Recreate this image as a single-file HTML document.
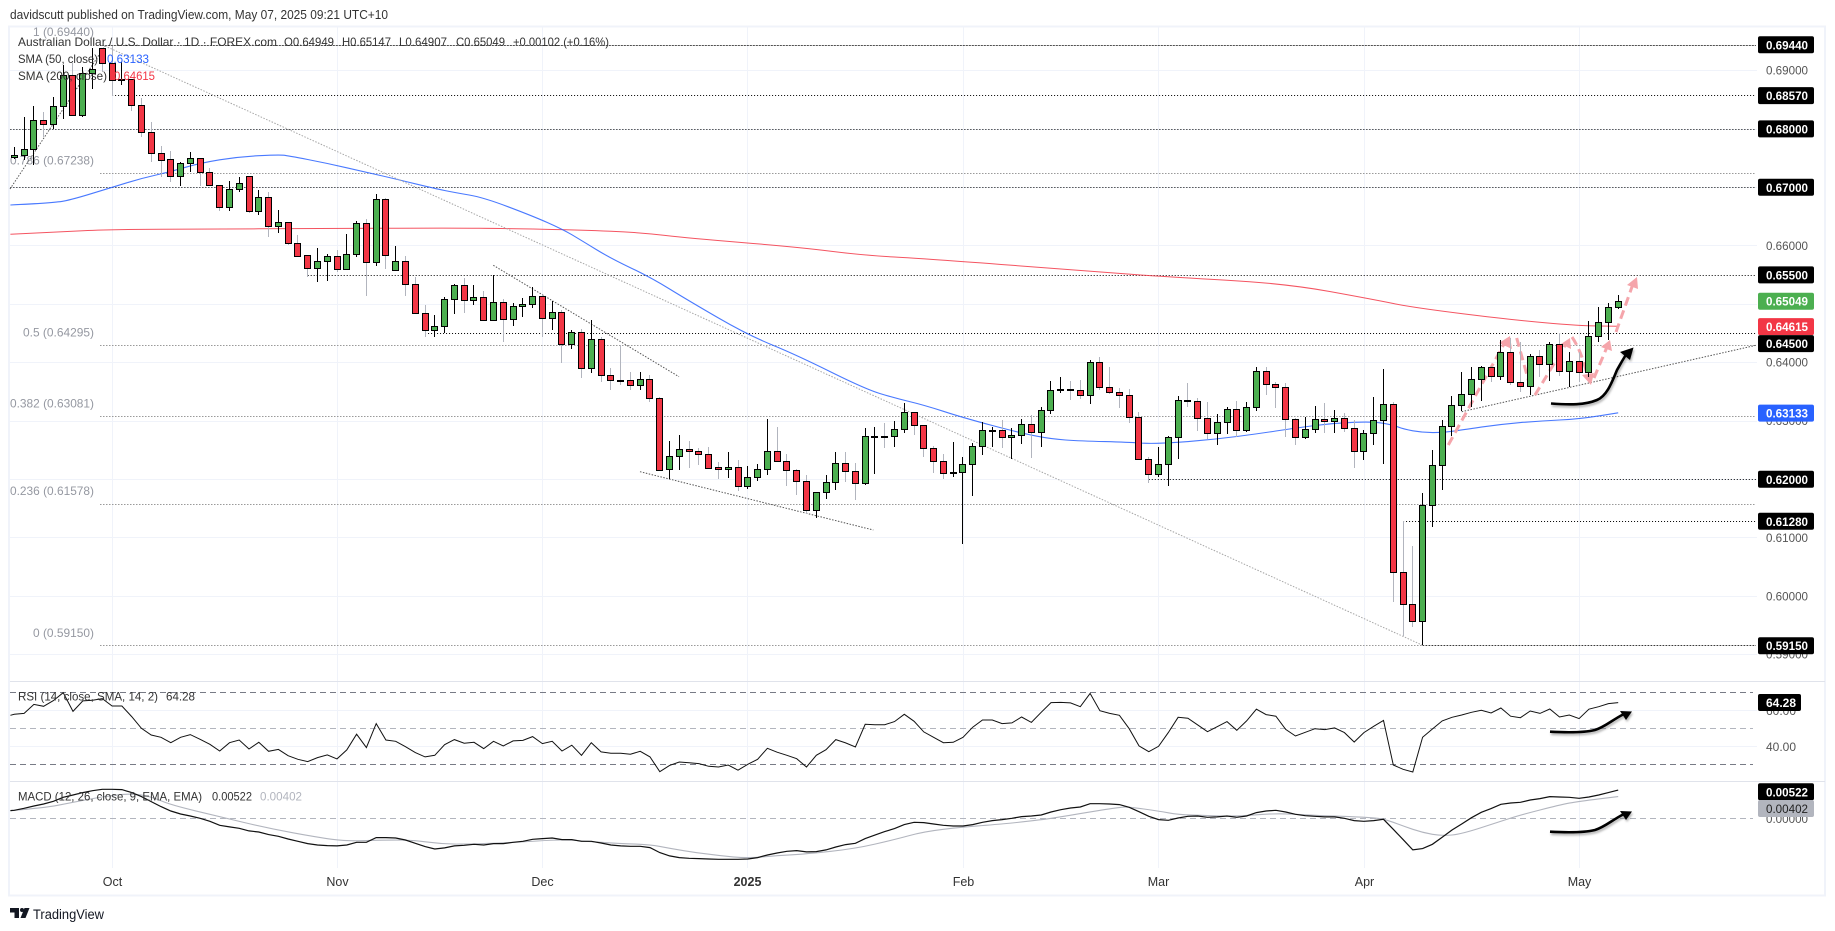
<!DOCTYPE html>
<html lang="en">
<head>
<meta charset="utf-8">
<title>AUD/USD daily chart</title>
<style>
html,body{margin:0;padding:0;background:#fff;width:1835px;height:931px;overflow:hidden}
svg{display:block;font-family:"Liberation Sans",sans-serif}
</style>
</head>
<body>
<svg id="chart" xmlns="http://www.w3.org/2000/svg" width="1835" height="931" viewBox="0 0 1835 931">
  <rect x="9" y="26.5" width="1816" height="869" fill="#fff" stroke="#f0f3fa" stroke-width="2"/>
  <text x="10" y="19" font-size="12.5" fill="#333" textLength="378" lengthAdjust="spacingAndGlyphs">davidscutt published on TradingView.com, May 07, 2025 09:21 UTC+10</text>
  <g id="grid"></g>
  <g id="levels"></g>
  <line x1="10" x2="1825" y1="681.5" y2="681.5" stroke="#e0e3eb"/>
  <line x1="10" x2="1825" y1="781.5" y2="781.5" stroke="#e0e3eb"/>
  <g id="mas"></g>
  <g fill="none" stroke-linecap="butt">
    <line x1="10" y1="189" x2="105" y2="46" stroke="#555" stroke-dasharray="1.5 1.5"/>
    <line x1="105" y1="46" x2="1422" y2="645" stroke="#a6a6a6" stroke-dasharray="1.5 1.5"/>
    <line x1="493.3" y1="265.3" x2="679" y2="376.7" stroke="#555" stroke-dasharray="1.5 1.5"/>
    <line x1="640" y1="471.7" x2="873.3" y2="530" stroke="#555" stroke-dasharray="1.5 1.5"/>
    <line x1="1461.7" y1="411.7" x2="1756" y2="345.3" stroke="#555" stroke-dasharray="1.5 1.5"/>
  </g>
  <g fill="none" stroke="#f5a5ab" stroke-width="3" stroke-dasharray="9 5">
    <path d="M1448.3 445 L1504 344"/>
    <path d="M1516.7 338 L1530 386"/>
    <path d="M1535 395 L1566 344"/>
    <path d="M1572 337 Q1582 352 1588 378"/>
    <path d="M1594 378 L1607 347"/>
    <path d="M1616 332 L1633 284"/>
  </g>
  <g fill="#f5a5ab">
    <polygon points="1510,336 1512,349 1499,343"/>
    <polygon points="1570,338 1571,349 1561,344"/>
    <polygon points="1591,385 1582,375 1594,373"/>
    <polygon points="1610,340 1612,351 1601,347"/>
    <polygon points="1637,277 1638,289 1627,285"/>
  </g>
  <g id="candles"></g>
  <g style="filter:drop-shadow(1px 2px 1px rgba(0,0,0,.3))">
    <path d="M1551 403.5 C1570 405 1585 405 1597 400 C1607 396 1612 382 1617 370 C1620 365 1624 357 1628 352" fill="none" stroke="#000" stroke-width="2.6"/>
    <polygon points="1633.5,347.5 1630,360 1620,352"/>
    <path d="M1550 731.7 C1565 732.5 1585 732.5 1595 730 C1605 727 1612 720 1624 714" fill="none" stroke="#000" stroke-width="2.6"/>
    <polygon points="1632,711.5 1626,720 1620,711"/>
    <path d="M1550 831.7 C1565 832.5 1585 832.5 1595 830 C1605 827 1612 820 1624 814" fill="none" stroke="#000" stroke-width="2.6"/>
    <polygon points="1632,811.5 1626,820 1620,811"/>
  </g>
  <g id="indicators"></g>
  <g font-size="12" fill="#333">
    <text x="18" y="46" textLength="259" lengthAdjust="spacingAndGlyphs">Australian Dollar / U.S. Dollar · 1D · FOREX.com</text>
    <text x="284" y="46" textLength="50" lengthAdjust="spacingAndGlyphs">O0.64949</text>
    <text x="342" y="46" textLength="49" lengthAdjust="spacingAndGlyphs">H0.65147</text>
    <text x="399" y="46" textLength="48" lengthAdjust="spacingAndGlyphs">L0.64907</text>
    <text x="456" y="46" textLength="49" lengthAdjust="spacingAndGlyphs">C0.65049</text>
    <text x="513" y="46" textLength="96" lengthAdjust="spacingAndGlyphs">+0.00102 (+0.16%)</text>
    <text x="18" y="63" textLength="80" lengthAdjust="spacingAndGlyphs">SMA (50, close)</text>
    <text x="107" y="63" fill="#2962ff" textLength="42" lengthAdjust="spacingAndGlyphs">0.63133</text>
    <text x="18" y="80" textLength="89" lengthAdjust="spacingAndGlyphs">SMA (200, close)</text>
    <text x="114" y="80" fill="#f23645" textLength="41" lengthAdjust="spacingAndGlyphs">0.64615</text>
    <text x="18" y="700.5" textLength="140" lengthAdjust="spacingAndGlyphs">RSI (14, close, SMA, 14, 2)</text>
    <text x="166" y="700.5" textLength="29" lengthAdjust="spacingAndGlyphs">64.28</text>
    <text x="18" y="800.5" textLength="184" lengthAdjust="spacingAndGlyphs">MACD (12, 26, close, 9, EMA, EMA)</text>
    <text x="212" y="800.5" textLength="40" lengthAdjust="spacingAndGlyphs">0.00522</text>
    <text x="260" y="800.5" fill="#b2b5be" textLength="42" lengthAdjust="spacingAndGlyphs">0.00402</text>
  </g>
  <g id="axis"></g>
  <g fill="#131722">
    <path d="M10 908 H19 V918 H14.5 V912.5 H10 Z"/>
    <circle cx="22" cy="910" r="2"/>
    <polygon points="24.5,908 29.5,908 25.5,918 20.5,918"/>
    <text x="33" y="919" font-size="13.5" textLength="71" lengthAdjust="spacingAndGlyphs">TradingView</text>
  </g>
</svg>
<script>
const opens=[.67509,.67543,.67646,.68142,.68074,.68382,.68913,.68228,.68947,.69375,.69118,.68824,.68844,.68399,.67937,.67577,.67474,.67183,.67406,.67491,.67252,.67029,.66652,.66961,.67183,.66584,.66824,.66327,.66396,.66036,.65831,.65608,.65728,.65813,.65591,.65848,.66378,.65711,.66789,.65574,.65728,.65334,.64837,.64546,.64615,.65077,.65317,.65060,.65111,.64718,.65026,.64735,.64957,.64991,.65129,.64752,.64854,.64307,.64512,.63896,.64392,.63776,.63695,.63690,.63605,.63707,.63382,.62166,.62389,.62509,.62475,.62423,.62200,.62166,.62200,.61875,.62029,.62166,.62475,.62303,.62149,.61961,.61464,.61772,.61944,.62269,.62132,.61926,.62722,.62731,.62731,.62851,.63142,.62920,.62526,.62303,.62110,.62115,.62252,.62560,.62825,.62834,.62714,.62748,.62937,.62800,.63177,.63519,.63536,.63519,.63433,.63998,.63570,.63485,.63433,.63057,.62337,.62081,.62252,.62714,.63348,.63330,.63040,.62783,.62971,.63194,.62834,.63228,.63844,.63621,.63570,.63022,.62714,.62851,.63022,.62988,.63040,.62868,.62475,.62783,.63005,.63279,.60403,.59855,.59563,.61550,.62235,.62902,.63262,.63450,.63707,.63913,.63759,.64170,.63656,.63587,.64101,.63964,.64307,.63844,.64016,.63832,.64444,.64683,.64949];
const highs=[.67685,.68199,.68387,.68284,.68541,.69089,.69123,.69055,.69380,.69380,.69421,.69140,.68849,.68524,.68113,.67702,.67616,.67428,.67599,.67497,.67325,.67034,.67103,.67172,.67188,.66949,.66914,.66604,.66401,.66178,.65836,.65955,.65853,.65921,.66195,.66418,.66452,.66880,.66812,.65990,.65819,.65464,.64980,.64808,.65111,.65339,.65437,.65322,.65214,.65488,.65077,.65009,.65094,.65283,.65139,.65048,.64894,.64551,.64569,.64723,.64426,.63901,.64295,.63827,.63827,.63781,.63404,.62651,.62754,.62651,.62526,.62543,.62291,.62462,.62325,.62223,.62257,.63027,.62890,.62428,.62166,.62069,.61772,.62069,.62462,.62462,.62274,.62873,.62890,.62959,.62993,.63301,.63147,.62925,.62560,.62428,.62634,.62377,.62611,.62976,.62885,.63010,.62868,.63027,.63096,.63233,.63678,.63747,.63678,.63695,.64038,.64089,.63918,.63558,.63541,.63147,.62372,.62548,.62731,.63421,.63644,.63387,.63318,.63108,.63228,.63335,.63318,.63918,.63918,.63656,.63644,.63045,.63062,.63250,.63301,.63181,.63130,.63005,.62839,.63404,.63884,.63313,.61281,.60853,.61755,.62497,.63010,.63421,.63832,.63913,.63935,.63935,.64375,.64409,.64346,.64135,.64209,.64346,.64500,.64175,.64175,.64705,.64945,.65014,.65147];
const lows=[.67474,.67462,.67382,.67856,.67993,.68164,.68216,.68199,.68678,.68969,.68558,.68747,.68306,.67856,.67428,.67172,.67088,.67017,.67257,.67017,.67029,.66589,.66589,.66914,.66555,.66521,.66144,.66212,.66007,.65801,.65459,.65373,.65390,.65545,.65579,.65801,.65134,.65647,.65596,.65574,.65134,.64820,.64426,.64437,.64495,.64830,.64848,.64985,.64718,.64718,.64351,.64625,.64779,.64933,.64437,.64551,.63992,.64221,.63735,.63810,.63666,.63524,.63610,.63524,.63524,.63324,.62142,.61995,.62154,.62194,.62240,.62171,.62005,.62022,.61795,.61834,.61971,.62074,.62303,.61880,.61726,.61401,.61327,.61663,.61812,.61944,.61640,.61903,.62086,.62531,.62553,.62793,.62754,.62377,.62108,.62000,.62034,.60892,.61714,.62411,.62548,.62531,.62343,.62600,.62360,.62548,.63113,.63473,.63353,.63370,.63284,.63524,.63450,.63216,.62959,.62337,.61932,.62034,.61880,.62343,.63233,.62822,.62680,.62582,.62771,.62714,.62800,.63165,.63438,.63216,.62719,.62582,.62690,.62793,.62793,.62793,.62810,.62194,.62325,.62582,.62262,.59889,.59317,.59471,.59150,.61173,.61812,.62741,.63159,.63233,.63335,.63666,.63695,.63610,.63495,.63433,.63747,.63678,.63764,.63570,.63661,.63742,.64346,.64380,.64907];
const closes=[.67543,.67646,.68142,.68074,.68382,.68913,.68228,.68947,.69015,.69118,.68827,.68841,.68399,.67937,.67577,.67467,.67183,.67406,.67491,.67252,.67029,.66652,.66961,.67063,.66584,.66824,.66327,.66396,.66036,.65824,.65608,.65728,.65813,.65591,.65848,.66378,.65711,.66789,.65831,.65728,.65334,.64837,.64546,.64615,.65077,.65317,.65060,.65111,.64718,.65026,.64735,.64957,.64991,.65129,.64752,.64854,.64307,.64512,.63896,.64392,.63776,.63690,.63685,.63605,.63707,.63382,.62154,.62389,.62509,.62475,.62423,.62194,.62166,.62200,.61875,.62029,.62166,.62475,.62303,.62149,.61961,.61464,.61772,.61944,.62269,.62132,.61926,.62731,.62731,.62722,.62851,.63142,.62920,.62526,.62303,.62098,.62120,.62252,.62560,.62834,.62834,.62714,.62748,.62937,.62800,.63177,.63519,.63536,.63527,.63433,.63998,.63570,.63485,.63433,.63057,.62337,.62081,.62252,.62714,.63348,.63330,.63040,.62783,.62971,.63194,.62834,.63228,.63844,.63621,.63570,.63022,.62714,.62851,.63022,.62988,.63040,.62868,.62475,.62783,.63005,.63279,.60403,.59855,.59563,.61550,.62235,.62902,.63262,.63450,.63707,.63913,.63759,.64170,.63656,.63587,.64101,.63964,.64307,.63844,.64016,.63832,.64444,.64683,.64940,.65049];

const sma50Bars=[-0.4,4,6,10,13,16,19,23,27,28,32,36,39,43,45,48,53,56,58,61,65,69,75,80,87,90,93,97,103,106,109,114,116,119,123,127,131,135,139,141,142,144,146,148,152,156,160,164];
const sma50Values=[.66692,.66726,.66789,.66995,.67149,.67262,.67411,.67519,.67553,.67536,.67406,.67252,.67137,.66974,.66906,.66820,.66503,.66281,.66084,.65776,.65459,.65048,.64466,.64123,.63541,.63387,.63267,.63050,.62783,.62685,.62651,.62628,.62605,.62625,.62685,.62771,.62873,.62959,.62984,.62925,.62856,.62796,.62793,.62839,.62937,.62993,.63027,.63133];
const sma200Bars=[-0.4,4,10,20,30,45,50,58,64,69,80,87,93,111,118,130,139,143,153,160,164];
const sma200Values=[.66190,.66229,.66275,.66281,.66286,.66298,.66289,.66264,.66221,.66122,.65973,.65827,.65776,.65544,.65459,.65348,.65074,.64937,.64728,.64625,.64615];

const rsiLeadValue=57.2;
const rsiValues=[57.8,58.3,63.3,62.2,65.4,69.8,59.4,65.2,65.6,66.5,62.4,62.4,56.5,50,46.3,45,42,45,46.5,43.9,41.1,37.4,42,43.5,38.5,42.2,37.2,38.3,34.8,32.8,31.5,33.7,35.2,33,38,46.7,39.3,52.6,43.5,42.8,39.8,36.5,34.1,35,40.9,43.7,41.7,42.2,38.7,42.8,40.2,43,43.3,
45.4,41.5,42.8,37.4,40.6,35,42,36.9,36.1,36.1,35.6,37.2,34.1,25.9,29.4,31.3,30.9,30.4,28.9,28.5,29.6,26.7,30,32.8,38.9,36.7,35,33.1,28.5,35,38.1,43.7,41.9,39.6,52.2,52,52,53.7,57.8,53.9,48,45,42,42.2,45,50.6,54.6,54.6,52.6,53,56.3,53.3,58.9,
64.3,64.4,64.1,62,69.4,59.8,58.3,57.2,49.8,40.2,37,40,47.6,56.1,55.6,51.9,48.1,50.9,53.7,48.9,54.1,60.6,57.6,56.7,49.4,45.7,47.8,49.8,49.3,50.2,47.6,42.4,47.6,51.1,54.4,29.6,27.2,25.7,45,49.6,54.1,56.1,57.4,58.9,60,58.5,61.3,56.7,55.9,59.6,58.3,60.7,56.3,57.4,55.4,60.6,62,63.7,64.28];

const macdLeadValue=.00142;
const macdValues=[.00148,.00185,.00228,.00265,.00315,.00389,.00432,.00475,.00512,.00537,.00537,.00531,.00475,.00401,.00309,.00216,.00136,.0008,.00043,0,-.00056,-.0013,-.0016,-.00185,-.00234,-.00253,-.00302,-.00333,-.00383,-.00426,-.00469,-.00494,-.00506,-.00512,-.00494,-.00444,-.00444,-.00358,-.00358,-.00364,-.00401,-.00463,-.00524,-.00568,-.00549,-.00512,-.005,-.00481,-.00494,-.00469,-.00469,-.00444,-.00426,
-.00389,-.00376,-.00364,-.00395,-.00395,-.00426,-.00426,-.00457,-.00494,-.00512,-.00518,-.00518,-.00543,-.00636,-.00697,-.00728,-.0074,-.00747,-.00753,-.00759,-.00759,-.00759,-.00753,-.00728,-.00679,-.00642,-.00611,-.00598,-.00623,-.00617,-.00586,-.00531,-.00487,-.00463,-.00376,-.00309,-.00247,-.00191,-.00117,-.00074,-.0008,-.00105,-.0013,-.00142,-.00142,-.00117,-.00074,-.00043,-.00025,0,.00031,.00043,.00062,
.00117,.0016,.00191,.0021,.00271,.00271,.00265,.00253,.00204,.00123,.00037,-.00025,-.00037,.00006,.00037,.00043,.00019,.00025,.00043,.00019,.00043,.00105,.00136,.00148,.00117,.00074,.00049,.00037,.00025,.00025,0,-.00043,-.00056,-.00043,-.00019,-.00204,-.00395,-.00586,-.00561,-.00481,-.00352,-.00216,-.00105,.00012,.00111,.00179,.00259,.00284,.00296,.00339,.00364,.00401,.00395,.00389,.0037,.00395,.00432,.00475,.00522];
const signalBars=[-0.4,3,6,9,12,14,16,21,26,31,34,38,41,44,47,52,55,57,58,62,65,67,69,72,75,78,81,86,90,93,97,100,105,108,110,113,114,117,119,122,125,129,132,135,138,140,142,144,146,148,152,154,158,160,164];
const signalValues=[.00142,.00191,.00296,.00401,.00463,.00401,.00247,.00031,-.00185,-.00352,-.00426,-.00401,-.00407,-.00481,-.00475,-.00438,-.00401,-.00401,-.0042,-.00469,-.00487,-.00555,-.00617,-.00691,-.0074,-.00691,-.0066,-.00561,-.00395,-.00247,-.0016,-.00123,-.00031,.00056,.00117,.00204,.0021,.00136,.00068,.00049,.00037,.00093,.00062,.00043,.00019,-.00006,-.00142,-.00265,-.00327,-.0029,-.00056,.00062,.00247,.00315,.00402];

const priceTicks=[.69,.68,.67,.66,.65,.64,.63,.62,.61,.60,.59];
const priceTickLabels=['0.69000','','','0.66000','','0.64000','0.63000','','0.61000','0.60000','0.59000'];
const levelValues=[.6944,.6857,.68,.67,.655,.645,.62,.6128,.5915];
const levelStartBars=[9,10,-0.4,-0.4,30,42,116,142,144];
const fibValues=[.6944,.67238,.64295,.63081,.61578,.5915];
const fibLabels=['1 (0.69440)','0.786 (0.67238)','0.5 (0.64295)','0.382 (0.63081)','0.236 (0.61578)','0 (0.59150)'];
const fibLabelStarts=[33,10,23,10,10,33];
const timeLabels=['Oct','Nov','Dec','2025','Feb','Mar','Apr','May'];
const rsiLevels=[70,50,30];
const rsiGrid=[60,40];
const badgeValues=[.6944,.6857,.68,.67,.655,.65049,.64615,.645,.63133,.62,.6128,.5915];
const badgeKinds=['level','level','level','level','level','last','sma200','level','sma50','level','level','level'];

const NS='http://www.w3.org/2000/svg';
const xBar=i=>14.3+9.78*i;
const timeX=[112.5,337.5,542.5,747.5,963.5,1158.5,1364.5,1579.5];
const yPrice=p=>(0.70202-p)*5840;
const yRsi=v=>728.3+(50-v)*1.8;
const yMacd=v=>818.3-v*5400;
const crisp=y=>Math.round(y)+0.5;
function mk(tag,attrs,parent){
  const el=document.createElementNS(NS,tag);
  for(const k in attrs)el.setAttribute(k,attrs[k]);
  parent.appendChild(el);
  return el;
}
function smoothPath(xs,ys){
  let d='M'+xs[0].toFixed(1)+' '+ys[0].toFixed(1);
  for(let i=1;i<xs.length-1;i++){
    const mx=(xs[i]+xs[i+1])/2,my=(ys[i]+ys[i+1])/2;
    d+=' Q'+xs[i].toFixed(1)+' '+ys[i].toFixed(1)+' '+mx.toFixed(1)+' '+my.toFixed(1);
  }
  const n=xs.length-1;
  return d+' L'+xs[n].toFixed(1)+' '+ys[n].toFixed(1);
}
const gGrid=document.getElementById('grid'),gLevels=document.getElementById('levels'),gMas=document.getElementById('mas'),gCandles=document.getElementById('candles'),gInd=document.getElementById('indicators'),gAxis=document.getElementById('axis');

timeX.forEach((x,k)=>{
  const v=mk('line',{x1:x,x2:x,y1:27,y2:868,stroke:'#f0f3fa'},gGrid);
  
  
  const t=mk('text',{x:x,y:886,'text-anchor':'middle','font-size':12.5,fill:'#333','font-weight':timeLabels[k]==='2025'?'bold':'normal'},gAxis);
  
  
  t.textContent=timeLabels[k];
});
priceTicks.forEach((p,k)=>{
  const y=crisp(yPrice(p));
  const l=mk('line',{x1:10,x2:1757,y1:y,y2:y,stroke:'#f0f3fa'},gGrid);
  
  
  if(priceTickLabels[k]){
    const t=mk('text',{x:1766,y:yPrice(p)+4.5,'font-size':12,fill:'#555',textLength:42,lengthAdjust:'spacingAndGlyphs'},gAxis);
    
    
    t.textContent=priceTickLabels[k];
  }
});
rsiGrid.forEach(v=>{
  const y=crisp(yRsi(v));
  const l=mk('line',{x1:10,x2:1757,y1:y,y2:y,stroke:'#f0f3fa'},gGrid);
  
  
  const t=mk('text',{x:1766,y:y+4.5,'font-size':12,fill:'#555',textLength:30,lengthAdjust:'spacingAndGlyphs'},gAxis);
  
  
  t.textContent=v.toFixed(2);
});
fibValues.forEach((p,k)=>{
  const y=crisp(yPrice(p));
  const l=mk('line',{x1:100,x2:1756,y1:y,y2:y,stroke:'#9a9a9a','stroke-dasharray':'1.5 1.5'},gLevels);
  
  
  const t=mk('text',{x:fibLabelStarts[k],y:yPrice(p)-8.5,'font-size':12,fill:'#9598a1',textLength:94-fibLabelStarts[k],lengthAdjust:'spacingAndGlyphs'},gLevels);
  
  
  t.textContent=fibLabels[k];
});
levelValues.forEach((p,k)=>{
  const y=crisp(yPrice(p));
  const l=mk('line',{x1:xBar(levelStartBars[k]),x2:1756,y1:y,y2:y,stroke:'#000','stroke-dasharray':'1 2'},gLevels);
  
  
});
const s200=mk('path',{d:smoothPath(sma200Bars.map(xBar),sma200Values.map(yPrice)),fill:'none',stroke:'#f23645','stroke-width':1,'stroke-opacity':.85},gMas);


const s50=mk('path',{d:smoothPath(sma50Bars.map(xBar),sma50Values.map(yPrice)),fill:'none',stroke:'#2962ff','stroke-width':1.1,'stroke-opacity':.85},gMas);



opens.forEach((o,i)=>{
  const c=closes[i],up=c>=o,cx=Math.floor(xBar(i));
  const wick=mk('line',{x1:cx+.5,x2:cx+.5,y1:Math.round(yPrice(highs[i])),y2:Math.round(yPrice(lows[i])),stroke:up?'#000':'#b2b5be'},gCandles);
  
  
  const top=crisp(yPrice(Math.max(o,c))),bot=crisp(yPrice(Math.min(o,c)));
  const body=mk('path',{d:'M'+(cx-2.5)+' '+top+' H'+(cx+3.5)+' V'+bot+' H'+(cx-2.5)+' Z',fill:up?'#4caf50':'#f23645',stroke:'#000'},gCandles);
  
  
});

rsiLevels.forEach(v=>{
  const y=crisp(yRsi(v));
  const l=mk('line',{x1:10,x2:1753,y1:y,y2:y,stroke:v===50?'#b2b5be':'#787b86','stroke-dasharray':'6 4'},gGrid);
  
  
});
const zero=mk('line',{x1:10,x2:1753,y1:crisp(yMacd(0)),y2:crisp(yMacd(0)),stroke:'#b2b5be','stroke-dasharray':'6 4'},gGrid);



const rsiStart='M'+xBar(-0.4).toFixed(1)+' '+yRsi(rsiLeadValue).toFixed(1);
const rsiLine=mk('path',{d:rsiStart+rsiValues.map((v,i)=>' L'+xBar(i).toFixed(1)+' '+yRsi(v).toFixed(1)).join(''),fill:'none',stroke:'#111','stroke-width':1},gInd);


const sigLine=mk('path',{d:smoothPath(signalBars.map(xBar),signalValues.map(yMacd)),fill:'none',stroke:'#b2b5be','stroke-width':1.1},gInd);


const macdStart='M'+xBar(-0.4).toFixed(1)+' '+yMacd(macdLeadValue).toFixed(1);
const macdLine=mk('path',{d:macdStart+macdValues.map((v,i)=>' L'+xBar(i).toFixed(1)+' '+yMacd(v).toFixed(1)).join(''),fill:'none',stroke:'#111','stroke-width':1.2},gInd);



const kindFill={level:'#000',last:'#4caf50',sma200:'#f23645',sma50:'#2962ff'};
let prevY=-100;
badgeValues.forEach((v,k)=>{
  const y=Math.max(yPrice(v)+0.3,prevY+17);
  prevY=y;
  const r=mk('rect',{x:1758,y:(y-8.5).toFixed(1),width:56,height:17,rx:2,fill:kindFill[badgeKinds[k]]},gAxis);
  
  
  const t=mk('text',{x:1766,y:(y+4.5).toFixed(1),'font-size':12,'font-weight':'bold',fill:'#fff',textLength:42,lengthAdjust:'spacingAndGlyphs'},gAxis);
  
  
  t.textContent=v.toFixed(5);
});

const zeroLbl=mk('text',{x:1766,y:822.8,'font-size':12,fill:'#555',textLength:42,lengthAdjust:'spacingAndGlyphs'},gAxis);


zeroLbl.textContent='0.00000';

const rsiBadge=mk('rect',{x:1758,y:694,width:43,height:17,rx:2,fill:'#000'},gAxis);


const rsiBadgeText=mk('text',{x:1766,y:707,'font-size':12,'font-weight':'bold',fill:'#fff',textLength:30,lengthAdjust:'spacingAndGlyphs'},gAxis);


rsiBadgeText.textContent=rsiValues[rsiValues.length-1].toFixed(2);

const macdBadge=mk('rect',{x:1758,y:783.3,width:56,height:17,rx:2,fill:'#000'},gAxis);


const macdBadgeText=mk('text',{x:1766,y:796.3,'font-size':12,'font-weight':'bold',fill:'#fff',textLength:42,lengthAdjust:'spacingAndGlyphs'},gAxis);


macdBadgeText.textContent=macdValues[macdValues.length-1].toFixed(5);
const sigBadge=mk('rect',{x:1758,y:800,width:56,height:17,rx:2,fill:'#b2b5be'},gAxis);


const sigBadgeText=mk('text',{x:1766,y:813,'font-size':12,fill:'#222',textLength:42,lengthAdjust:'spacingAndGlyphs'},gAxis);


sigBadgeText.textContent=signalValues[signalValues.length-1].toFixed(5);
</script>
</body>
</html>
